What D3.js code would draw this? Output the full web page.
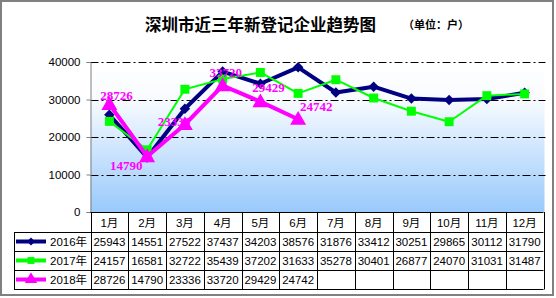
<!DOCTYPE html>
<html lang="zh">
<head>
<meta charset="UTF-8">
<title>深圳市近三年新登记企业趋势图</title>
<style>
  body { margin: 0; background: #fff; }
  svg { display: block; }
</style>
</head>
<body>
<script src="https://cdn.jsdelivr.net/npm/d3@7"></script>
<script>
// data
const months = ['1月', '2月', '3月', '4月', '5月', '6月', '7月', '8月', '9月', '10月', '11月', '12月'];
const years = ['2016年', '2017年', '2018年'];
const values2016 = [25943, 14551, 27522, 37437, 34203, 38576, 31876, 33412, 30251, 29865, 30112, 31790];
const values2017 = [24157, 16581, 32722, 35439, 37202, 31633, 35278, 30401, 26877, 24070, 31031, 31487];
const values2018 = [28726, 14790, 23336, 33720, 29429, 24742];
const yTicks = [0, 10000, 20000, 30000, 40000];

const width = 556, height = 298;
const plotLeft = 90.5, plotRight = 543.5, plotTop = 62, plotBottom = 212;
const tableLeft = 14, headH = 20, rowH = 19;
const numFont = '"Liberation Sans", "Noto Sans CJK SC", sans-serif';

// one style per series, same order as years
const styles = [
    {color: '#000080', lw: 4, marker: 'diamond', size: 70},
    {color: '#00ff00', lw: 2, marker: 'square', size: 80},
    {color: '#ff00ff', lw: 4, marker: 'triangle', size: 110}
];
const series = [values2016, values2017, values2018];

// hand-placed label offsets for the 2018 data labels (dx, dy from the point)
const labelShift = [[7, -8], [-21, 9], [-11, -2], [3, -13], [8, -14], [18, -12]];

let svg = d3.select('body').append('svg')
    .attr('width', width)
    .attr('height', height);

let defs = svg.append('defs');
let grad = defs.append('linearGradient')
    .attr('id', 'bg')
    .attr('x1', 0).attr('y1', 0).attr('x2', 0).attr('y2', 1);
grad.append('stop').attr('offset', '0%').attr('stop-color', '#ffffff');
grad.append('stop').attr('offset', '25%').attr('stop-color', '#f8fbff');
grad.append('stop').attr('offset', '100%').attr('stop-color', '#99c9fb');

// outer frame
svg.append('rect')
    .attr('x', 1).attr('y', 1)
    .attr('width', width - 4).attr('height', height - 4)
    .attr('fill', '#fff')
    .attr('stroke', '#808080')
    .attr('stroke-width', 2);

let x = d3.scaleBand().domain(months).range([plotLeft, plotRight]);
let y = d3.scaleLinear().domain([0, 40000]).range([plotBottom, plotTop]);
const cx = m => x(m) + x.bandwidth() / 2;

// plot background
svg.append('rect')
    .attr('x', plotLeft).attr('y', plotTop)
    .attr('width', plotRight - plotLeft + 1).attr('height', plotBottom - plotTop)
    .attr('fill', 'url(#bg)');

// grid lines
svg.selectAll('.grid')
    .data(yTicks.filter(d => d > 0))
    .enter()
    .append('line')
    .attr('class', 'grid')
    .attr('x1', plotLeft).attr('x2', plotRight + 2)
    .attr('y1', d => Math.round(y(d)) + 0.5)
    .attr('y2', d => Math.round(y(d)) + 0.5)
    .attr('stroke', '#000')
    .attr('stroke-width', 1)
    .attr('stroke-dasharray', '8,3,2,3');

// y axis
let yAxis = svg.append('g')
    .attr('transform', `translate(${plotLeft},0)`)
    .call(d3.axisLeft(y).tickValues(yTicks).tickSize(4).tickPadding(6).tickFormat(d3.format('d')));
yAxis.select('.domain').attr('stroke', '#808080');
yAxis.selectAll('.tick line').attr('stroke', '#808080');
yAxis.selectAll('text')
    .attr('font-family', numFont)
    .attr('font-size', 11.5)
    .attr('fill', '#000');

// marker shapes
function markerPath(kind, size) {
    if (kind === 'diamond') return d3.symbol().type(d3.symbolDiamond2).size(size)();
    if (kind === 'square') return d3.symbol().type(d3.symbolSquare).size(size)();
    return d3.symbol().type(d3.symbolTriangle).size(size)();
}

let line = d3.line()
    .x((d, i) => cx(months[i]))
    .y(d => y(d));

series.forEach((vals, k) => {
    let st = styles[k];
    let g = svg.append('g');
    g.append('path')
        .datum(vals)
        .attr('d', line)
        .attr('fill', 'none')
        .attr('stroke', st.color)
        .attr('stroke-width', st.lw)
        .attr('stroke-linejoin', 'round');
    g.selectAll('.pt')
        .data(vals)
        .enter()
        .append('path')
        .attr('class', 'pt')
        .attr('transform', (d, i) => {
            let dy = st.marker === 'triangle' ? 1 : 0;
            return `translate(${cx(months[i])},${y(d) + dy})`;
        })
        .attr('d', markerPath(st.marker, st.size))
        .attr('fill', st.color);
});

// 2018 data labels
svg.selectAll('.lbl')
    .data(values2018)
    .enter()
    .append('text')
    .attr('class', 'lbl')
    .attr('x', (d, i) => cx(months[i]) + labelShift[i][0])
    .attr('y', (d, i) => y(d) + labelShift[i][1] + 4)
    .attr('text-anchor', 'middle')
    .attr('font-family', '"Liberation Serif", serif')
    .attr('font-weight', 'bold')
    .attr('font-size', 13)
    .attr('fill', '#ff00ff')
    .text(d => d);

// data table
let table = svg.append('g').attr('stroke', '#000').attr('stroke-width', 1);
const tableBottom = plotBottom + headH + rowH * 3;
const rowY = i => plotBottom + headH + rowH * i;

// horizontal rules
table.append('line')
    .attr('x1', plotLeft).attr('x2', plotRight)
    .attr('y1', plotBottom + 0.5).attr('y2', plotBottom + 0.5);
[0, 1, 2, 3].forEach(i => {
    table.append('line')
        .attr('x1', tableLeft).attr('x2', plotRight)
        .attr('y1', Math.round(rowY(i)) + 0.5).attr('y2', Math.round(rowY(i)) + 0.5);
});
// vertical rules
table.append('line')
    .attr('x1', tableLeft + 0.5).attr('x2', tableLeft + 0.5)
    .attr('y1', rowY(0)).attr('y2', tableBottom + 0.5);
months.concat(['end']).forEach((m, i) => {
    let xx = Math.round(plotLeft + x.bandwidth() * i) + 0.5;
    table.append('line')
        .attr('x1', xx).attr('x2', xx)
        .attr('y1', plotBottom).attr('y2', tableBottom + 0.5);
});

// header
svg.selectAll('.head')
    .data(months)
    .enter()
    .append('text')
    .attr('class', 'head')
    .attr('x', d => cx(d))
    .attr('y', plotBottom + 15)
    .attr('text-anchor', 'middle')
    .attr('font-family', numFont)
    .attr('font-size', 11.5)
    .text(d => d);

// rows
series.forEach((vals, k) => {
    let st = styles[k];
    let yc = rowY(k) + rowH / 2;
    svg.append('line')
        .attr('x1', 16).attr('x2', 46)
        .attr('y1', yc).attr('y2', yc)
        .attr('stroke', st.color)
        .attr('stroke-width', 4);
    svg.append('path')
        .attr('transform', `translate(31,${yc})`)
        .attr('d', markerPath(st.marker, st.size * 0.6))
        .attr('fill', st.color);
    svg.append('text')
        .attr('x', 50)
        .attr('y', yc + 4.5)
        .attr('font-family', numFont)
        .attr('font-size', 11.5)
        .text(years[k]);
    svg.selectAll('.cell' + k)
        .data(vals)
        .enter()
        .append('text')
        .attr('class', 'cell' + k)
        .attr('x', (d, i) => cx(months[i]))
        .attr('y', yc + 4.5)
        .attr('text-anchor', 'middle')
        .attr('font-family', numFont)
        .attr('font-size', 11.5)
        .text(d => d);
});

// title
svg.append('text')
    .attr('x', 145).attr('y', 31)
    .attr('font-family', '"Noto Sans CJK SC", sans-serif')
    .attr('font-weight', 'bold')
    .attr('font-size', 16.5)
    .text('深圳市近三年新登记企业趋势图');
svg.append('text')
    .attr('x', 403).attr('y', 29)
    .attr('font-family', '"Noto Sans CJK SC", sans-serif')
    .attr('font-weight', 'bold')
    .attr('font-size', 11)
    .text('（单位：户）');
</script>
</body>
</html>
